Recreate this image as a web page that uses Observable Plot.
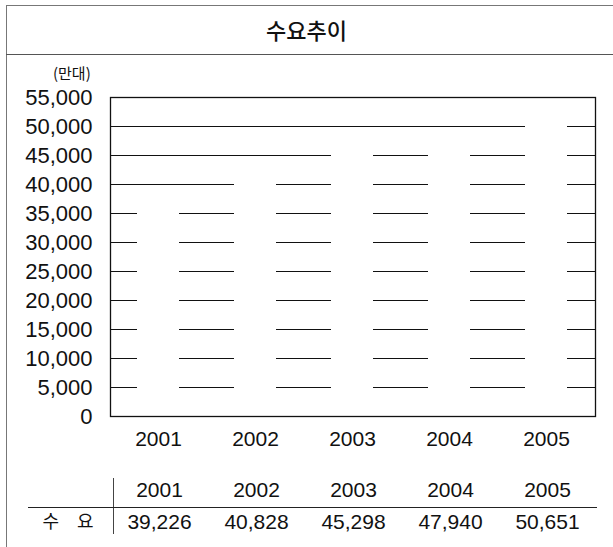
<!DOCTYPE html>
<html>
<head>
<meta charset="utf-8">
<script src="https://cdn.jsdelivr.net/npm/d3@7"></script>
<script src="https://cdn.jsdelivr.net/npm/@observablehq/plot@0.6"></script>
<style>
  html, body { margin: 0; padding: 0; background: #fff; }
  #page { position: relative; width: 613px; height: 547px; overflow: hidden; font-family: "Liberation Sans", Arial, sans-serif; color: #111; }
  #border { position: absolute; left: 6px; top: 5px; width: 640px; height: 600px; border-left: 1px solid #777; border-top: 1px solid #777; }
  #titlebar { position: absolute; left: 6px; top: 5px; width: 640px; height: 49px; border-bottom: 1px solid #555; }
  #title { position: absolute; left: 0; width: 613px; top: 15px; text-align: center; font-family: "Noto Sans CJK KR", sans-serif; font-size: 22px; font-weight: 500; line-height: 28px; }
  #unit { position: absolute; left: 53px; top: 64px; font-family: "Noto Sans CJK KR", sans-serif; font-size: 15px; line-height: 18px; }
  #chart { position: absolute; left: 0; top: 60px; }
  #table { position: absolute; left: 0; top: 472px; }
  #vline { position: absolute; left: 113px; top: 478px; width: 0; height: 56px; border-left: 1px solid #444; }
  #hline { position: absolute; left: 28px; top: 507px; width: 569px; height: 0; border-top: 1px solid #222; }
</style>
</head>
<body>
<div id="page">
  <div id="border"></div>
  <div id="titlebar"></div>
  <div id="title">수요추이</div>
  <div id="unit">(만대)</div>
  <div id="chart"></div>
  <div id="table"></div>
  <div id="vline"></div>
  <div id="hline"></div>
</div>
<script>
const years = ["2001", "2002", "2003", "2004", "2005"];
const demand = [39226, 40828, 45298, 47940, 50651];
const yTicks = [0, 5000, 10000, 15000, 20000, 25000, 30000, 35000, 40000, 45000, 50000, 55000];
const gridLines = [5000, 10000, 15000, 20000, 25000, 30000, 35000, 40000, 45000, 50000];
const rowLabel = "수\u3000요";

const data = years.map((y, i) => ({year: y, value: demand[i]}));
const fmt = d3.format(",");
const xScale = {domain: years, paddingInner: 0.567, paddingOuter: 0.2835};

const chart = Plot.plot({
  width: 613,
  height: 400,
  marginLeft: 110,
  marginRight: 18,
  marginTop: 37,
  marginBottom: 44,
  style: {fontFamily: "'Liberation Sans', Arial, sans-serif", color: "#111", background: "transparent"},
  x: {...xScale, label: null},
  y: {domain: [0, 55000], label: null},
  marks: [
    Plot.ruleY(gridLines, {stroke: "#111", strokeWidth: 1.2}),
    Plot.barY(data, {x: "year", y: "value", fill: "#fff"}),
    Plot.frame({stroke: "#111", strokeWidth: 1.3}),
    Plot.axisY({ticks: yTicks, tickFormat: fmt, tickSize: 0, tickPadding: 18, fontSize: 22, label: null}),
    Plot.axisX({tickSize: 0, tickPadding: 15, fontSize: 21, label: null})
  ]
});
document.getElementById("chart").appendChild(chart);

const table = Plot.plot({
  width: 613,
  height: 70,
  marginLeft: 110,
  marginRight: 18,
  marginTop: 0,
  marginBottom: 0,
  style: {fontFamily: "'Liberation Sans', Arial, sans-serif", color: "#111", background: "transparent"},
  x: {...xScale, axis: null},
  y: {type: "point", domain: ["head", "val"], range: [18, 50], padding: 0, axis: null},
  marks: [
    Plot.text(data, {x: "year", y: () => "head", text: "year", fontSize: 21, fill: "#111"}),
    Plot.text(data, {x: "year", y: () => "val", text: d => fmt(d.value), fontSize: 21, fill: "#111"}),
    Plot.axisY({ticks: ["val"], tickFormat: () => rowLabel, tickSize: 0, tickPadding: 17, fontSize: 18, fontFamily: "'Noto Sans CJK KR', sans-serif", label: null})
  ]
});
document.getElementById("table").appendChild(table);
</script>
</body>
</html>
